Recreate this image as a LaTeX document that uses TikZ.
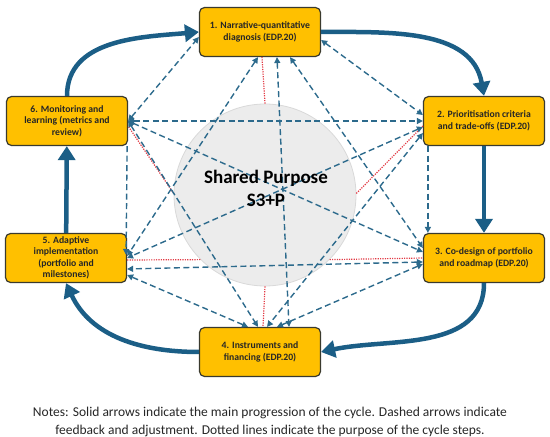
\documentclass[tikz,border=0pt]{standalone}
\usepackage{fontspec}
\setmainfont{Carlito}
\usetikzlibrary{arrows.meta}

\definecolor{stepfill}{HTML}{FFC000}
\definecolor{stepline}{HTML}{3A3A2E}
\definecolor{mainblue}{HTML}{1B5E86}
\definecolor{loopblue}{HTML}{2C6A8C}
\definecolor{purposered}{HTML}{E23B45}
\definecolor{purposegray}{HTML}{ECECEC}

\begin{document}
\begin{tikzpicture}[x=1pt, y=1pt,
        stepbox/.style={rectangle, draw=stepline, fill=stepfill, rounded corners=5pt, minimum width=121pt, minimum height=49pt, align=center, line width=1.2pt, font=\fontsize{9.7}{11.4}\selectfont\bfseries, text=black!85, inner sep=2pt},
        purpose/.style={circle, draw=black!15, fill=purposegray, minimum size=182pt, inner sep=0pt, line width=0.8pt},
        mainarrow/.style={-{Triangle[length=14pt,width=17pt]}, line width=4.5pt, mainblue},
        looparrow/.style={{Triangle[length=6pt,width=6pt]}-{Triangle[length=6pt,width=6pt]}, line width=1.4pt, loopblue, dash pattern=on 6pt off 3.5pt},
        downarrow/.style={-{Triangle[length=6pt,width=6pt]}, line width=1.4pt, loopblue, dash pattern=on 6pt off 3.5pt},
        purposeline/.style={line width=1.2pt, purposered, dash pattern=on 1.2pt off 1.2pt}
    ]
        \useasboundingbox (0,0) rectangle (550,437);

        \node[purpose] (circ) at (265,242) {};

        \node[stepbox] (n1) at (260,405) {1. Narrative-quantitative \\ diagnosis (EDP.20)};
        \node[stepbox] (n2) at (484,316) {2. Prioritisation criteria \\ and trade-offs (EDP.20)};
        \node[stepbox] (n3) at (484,179) {3. Co-design of portfolio \\ and roadmap (EDP.20)};
        \node[stepbox] (n4) at (260,85)  {4. Instruments and \\ financing (EDP.20)};
        \node[stepbox] (n5) at (66,179)  {5. Adaptive \\ implementation \\ (portfolio and \\ milestones)};
        \node[stepbox] (n6) at (67,316)  {6. Monitoring and \\ learning (metrics and \\ review)};

        \draw[purposeline] (circ.90) -- ([xshift=2]n1.south);
        \draw[purposeline] (circ.1) -- ([yshift=-5]n2.west);
        \draw[purposeline] (circ.-45) -- (n3.west);
        \draw[purposeline] (circ.-90) -- ([xshift=3]n4.north);
        \draw[purposeline] (circ.-135) -- ([yshift=-2]n5.east);
        \draw[purposeline] (circ.179) -- ([yshift=-5]n6.east);

        \draw[looparrow] (n6.east) -- ([yshift=-5]n1.west);
        \draw[looparrow] ([yshift=-8]n1.east) -- ([yshift=6]n2.west);
        \draw[looparrow] (n6.east) -- (n2.west);
        \draw[looparrow] (n6.east) -- ([yshift=6]n3.west);
        \draw[looparrow] (n6.east) -- ([xshift=-2]n4.north);
        \draw[downarrow] ([xshift=-1]n6.south east) -- ([xshift=-1,yshift=3]n5.east);
        \draw[looparrow] ([xshift=-2]n1.south) -- ([yshift=2]n5.east);
        \draw[looparrow] ([xshift=17]n1.south) -- ([xshift=29]n4.north);
        \draw[looparrow] ([xshift=30]n1.south) -- ([yshift=10]n3.west);
        \draw[downarrow] ([xshift=5]n2.south west) -- ([xshift=5]n3.north west);
        \draw[looparrow] ([yshift=-12]n2.west) -- ([xshift=7]n4.north);
        \draw[looparrow] ([yshift=-6]n2.west) -- (n5.east);
        \draw[looparrow] ([yshift=-6]n3.west) -- ([xshift=17]n4.north);
        \draw[looparrow] ([yshift=-4]n3.west) -- ([yshift=-11]n5.east);
        \draw[looparrow] ([xshift=-12]n4.north) -- ([yshift=-17]n5.east);

        \draw[mainarrow] (n6.north) to[out=90,in=185] (n1.west);
        \draw[mainarrow] (n1.east) to[out=0,in=100] (n2.north);
        \draw[mainarrow] (n2) -- (n3);
        \draw[mainarrow] (n3.south) to[out=-90,in=12] (n4.east);
        \draw[mainarrow] (n4.west) to[out=180,in=-65] (n5.south);
        \draw[mainarrow] (n5) -- (n6);

        \node[font=\fontsize{19}{23}\selectfont\bfseries, text=black, align=center] (purposetext) at (266,249) {Shared Purpose \\ S3+P};

        \node[font=\fontsize{13.5}{18}\selectfont, text=black!85, align=center] (notes) at (270,15) {Notes: Solid arrows indicate the main progression of the cycle. Dashed arrows indicate \\ feedback and adjustment. Dotted lines indicate the purpose of the cycle steps.};
    \end{tikzpicture}
\end{document}
